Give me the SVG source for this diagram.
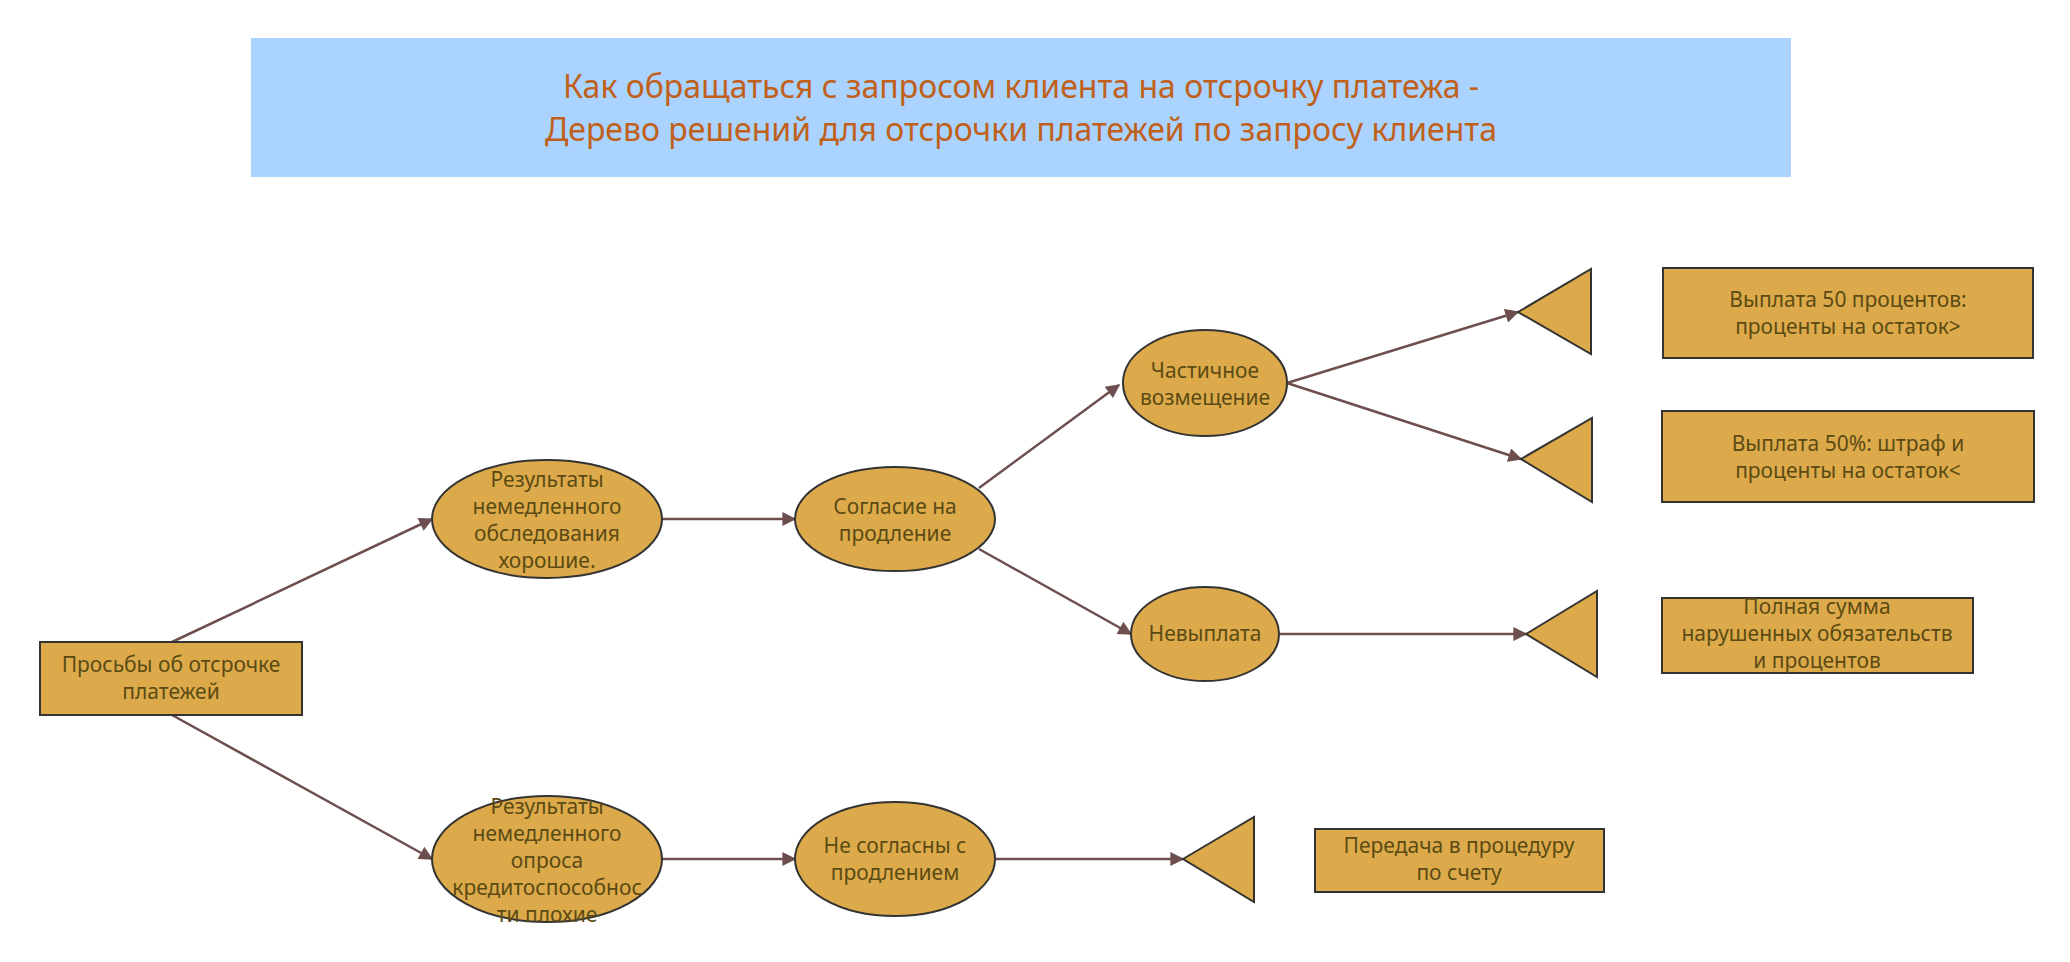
<svg xmlns="http://www.w3.org/2000/svg" width="2070" height="962" viewBox="0 0 2070 962">
<style>
.n{fill:#dcaa4a;stroke:#333;stroke-width:2}
.t{font-family:"Noto Sans","Open Sans",sans-serif;font-size:21px;fill:#5b4a14;text-anchor:middle}
.c{stroke:#6e4f4f;stroke-width:2.5;fill:none;marker-end:url(#a)}
.ti{font-family:"Noto Sans","Open Sans",sans-serif;font-size:32px;fill:#c0601a;text-anchor:middle}
</style>
<defs><marker id="a" viewBox="0 0 10 10" refX="9" refY="5" markerWidth="16" markerHeight="14" markerUnits="userSpaceOnUse" orient="auto"><path d="M0,0L10,5L0,10z" fill="#6e4f4f"/></marker></defs>
<rect width="2070" height="962" fill="#fff"/>
<g id="title"><rect x="251" y="38" width="1540" height="139" fill="#aad3ff"/>
<text class="ti" x="1021" y="98">Как обращаться с запросом клиента на отсрочку платежа -</text>
<text class="ti" x="1021" y="141">Дерево решений для отсрочки платежей по запросу клиента</text></g>
<g id="connectors">
<line class="c" x1="172" y1="642" x2="432" y2="519"/>
<line class="c" x1="172" y1="715" x2="432" y2="859"/>
<line class="c" x1="662" y1="519" x2="795" y2="519"/>
<line class="c" x1="979" y1="488" x2="1119" y2="385"/>
<line class="c" x1="979" y1="549" x2="1131" y2="634"/>
<line class="c" x1="1287" y1="383" x2="1518" y2="312"/>
<line class="c" x1="1287" y1="383" x2="1521" y2="459"/>
<line class="c" x1="1279" y1="634" x2="1526" y2="634"/>
<line class="c" x1="662" y1="859" x2="795" y2="859"/>
<line class="c" x1="995" y1="859" x2="1183" y2="859"/>
</g>
<g id="start"><rect class="n" x="40" y="642" width="262" height="73"/>
<text class="t" x="171" y="672">Просьбы об отсрочке</text><text class="t" x="171" y="699">платежей</text></g>
<g id="e1"><ellipse class="n" cx="547" cy="519" rx="115" ry="59"/>
<text class="t"><tspan x="547" y="487">Результаты</tspan><tspan x="547" y="514">немедленного</tspan><tspan x="547" y="541">обследования</tspan><tspan x="547" y="568">хорошие.</tspan></text></g>
<g id="e2"><ellipse class="n" cx="895" cy="519" rx="100" ry="52"/>
<text class="t"><tspan x="895" y="514">Согласие на</tspan><tspan x="895" y="541">продление</tspan></text></g>
<g id="e3"><ellipse class="n" cx="1205" cy="383" rx="82" ry="53"/>
<text class="t"><tspan x="1205" y="378">Частичное</tspan><tspan x="1205" y="405">возмещение</tspan></text></g>
<g id="e4"><ellipse class="n" cx="1205" cy="634" rx="74" ry="47"/>
<text class="t" x="1205" y="641">Невыплата</text></g>
<g id="e5"><ellipse class="n" cx="547" cy="859" rx="115" ry="63"/>
<text class="t"><tspan x="547" y="814">Результаты</tspan><tspan x="547" y="841">немедленного</tspan><tspan x="547" y="868">опроса</tspan><tspan x="547" y="895">кредитоспособнос</tspan><tspan x="547" y="922">ти плохие</tspan></text></g>
<g id="e6"><ellipse class="n" cx="895" cy="859" rx="100" ry="57"/>
<text class="t"><tspan x="895" y="853">Не согласны с</tspan><tspan x="895" y="880">продлением</tspan></text></g>
<g id="t1"><polygon class="n" points="1518,312 1591,269 1591,354"/></g>
<g id="t2"><polygon class="n" points="1521,459 1592,418 1592,502"/></g>
<g id="t3"><polygon class="n" points="1526,634 1597,591 1597,677"/></g>
<g id="t4"><polygon class="n" points="1183,859 1254,817 1254,902"/></g>
<g id="r1"><rect class="n" x="1663" y="268" width="370" height="90"/>
<text class="t"><tspan x="1848" y="307">Выплата 50 процентов:</tspan><tspan x="1848" y="334">проценты на остаток&gt;</tspan></text></g>
<g id="r2"><rect class="n" x="1662" y="411" width="372" height="91"/>
<text class="t"><tspan x="1848" y="451">Выплата 50%: штраф и</tspan><tspan x="1848" y="478">проценты на остаток&lt;</tspan></text></g>
<g id="r3"><rect class="n" x="1662" y="598" width="311" height="75"/>
<text class="t"><tspan x="1817" y="614">Полная сумма</tspan><tspan x="1817" y="641">нарушенных обязательств</tspan><tspan x="1817" y="668">и процентов</tspan></text></g>
<g id="r4"><rect class="n" x="1315" y="829" width="289" height="63"/>
<text class="t"><tspan x="1459" y="853">Передача в процедуру</tspan><tspan x="1459" y="880">по счету</tspan></text></g>
</svg>
